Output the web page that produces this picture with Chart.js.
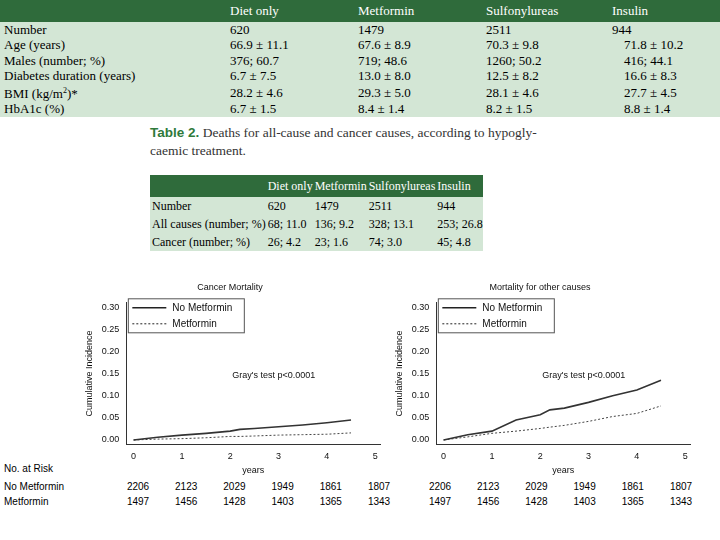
<!DOCTYPE html>
<html><head><meta charset="utf-8">
<script src="https://cdn.jsdelivr.net/npm/chart.js@4"></script>
<style>
body{margin:0;width:720px;height:540px;background:#fff;position:relative;overflow:hidden;font-family:"Liberation Serif",serif;}
.abs{position:absolute;}
table{border-collapse:collapse;white-space:nowrap;}
#t1{left:0;top:0;width:720px;background:#d3e6d5;font-size:13px;}
#t1 th{background:#2f6b3b;color:#fff;font-weight:normal;text-align:left;height:22px;padding:0;}
#t1 td{padding:0;height:15.5px;line-height:14px;}
#t2{left:150px;top:175px;width:266px;background:#d3e6d5;font-size:12px;}
#t2 th{background:#2f6b3b;color:#fff;font-weight:normal;text-align:left;height:22px;padding:0 0 0 2px;}
#t2 td{padding:0 0 0 2px;height:18px;}
.risk{font-family:"Liberation Sans",Arial,sans-serif;font-size:10px;}
</style></head><body>
<table id="t1" class="abs"><tr><th style="width:230px"></th><th style="width:128px">Diet only</th><th style="width:128px">Metformin</th><th style="width:126px">Sulfonylureas</th><th>Insulin</th></tr>
<tr><td style="padding-left:4px">Number</td><td>620</td><td>1479</td><td>2511</td><td>944</td></tr>
<tr><td style="padding-left:4px">Age (years)</td><td>66.9 ± 11.1</td><td>67.6 ± 8.9</td><td>70.3 ± 9.8</td><td style="padding-left:12px">71.8 ± 10.2</td></tr>
<tr><td style="padding-left:4px">Males (number; %)</td><td>376; 60.7</td><td>719; 48.6</td><td>1260; 50.2</td><td style="padding-left:12px">416; 44.1</td></tr>
<tr><td style="padding-left:4px">Diabetes duration (years)</td><td>6.7 ± 7.5</td><td>13.0 ± 8.0</td><td>12.5 ± 8.2</td><td style="padding-left:12px">16.6 ± 8.3</td></tr>
<tr><td style="padding-left:4px">BMI (kg/m<sup style="font-size:8px">2</sup>)*</td><td>28.2 ± 4.6</td><td>29.3 ± 5.0</td><td>28.1 ± 4.6</td><td style="padding-left:12px">27.7 ± 4.5</td></tr>
<tr><td style="padding-left:4px">HbA1c (%)</td><td>6.7 ± 1.5</td><td>8.4 ± 1.4</td><td>8.2 ± 1.5</td><td style="padding-left:12px">8.8 ± 1.4</td></tr>
</table>
<div class="abs" style="left:150px;top:124px;width:400px;font-size:13.5px;line-height:18px;color:#333;white-space:nowrap"><b style="font-family:'Liberation Sans',sans-serif;color:#2f7a3b">Table 2.</b> Deaths for all-cause and cancer causes, according to hypogly-<br>caemic treatment.</div>
<table id="t2" class="abs"><tr><th style="width:118px"></th><th>Diet only</th><th>Metformin</th><th>Sulfonylureas</th><th>Insulin</th></tr>
<tr><td>Number</td><td>620</td><td>1479</td><td>2511</td><td>944</td></tr>
<tr><td>All causes (number; %)</td><td>68; 11.0</td><td>136; 9.2</td><td>328; 13.1</td><td>253; 26.8</td></tr>
<tr><td>Cancer (number; %)</td><td>26; 4.2</td><td>23; 1.6</td><td>74; 3.0</td><td>45; 4.8</td></tr>
</table>
<div class="abs" style="left:80px;top:280px;width:312px;height:196px"><canvas id="c1"></canvas></div>
<div class="abs" style="left:390px;top:280px;width:312px;height:196px"><canvas id="c2"></canvas></div>
<div id="risk"></div>
<script>
const years = [0, 0.5, 1, 1.5, 2, 2.2, 2.5, 3, 3.5, 4, 4.5];
const cancerNoMet = [0, 0.006, 0.011, 0.015, 0.020, 0.024, 0.026, 0.030, 0.034, 0.039, 0.045];
const cancerMet = [0, 0.002, 0.003, 0.005, 0.008, 0.008, 0.009, 0.011, 0.012, 0.013, 0.016];
const otherNoMet = [0, 0.012, 0.020, 0.045, 0.057, 0.068, 0.072, 0.085, 0.100, 0.113, 0.135];
const otherMet = [0, 0.007, 0.015, 0.020, 0.026, 0.029, 0.033, 0.042, 0.053, 0.060, 0.077];
const yTicks = [0, 0.05, 0.10, 0.15, 0.20, 0.25, 0.30];
const riskYears = [0, 1, 2, 3, 4, 5];
const riskNoMet = [2206, 2123, 2029, 1949, 1861, 1807];
const riskMet = [1497, 1456, 1428, 1403, 1365, 1343];

const F = '"Liberation Sans", Arial, sans-serif';
const pts = ys => years.map((x, i) => ({x, y: ys[i]}));

const overlay = {
  id: 'overlay',
  afterDraw(chart) {
    const {ctx, chartArea: a, scales} = chart;
    ctx.save();
    const lx = a.left + 2, ly = a.top - 4;
    ctx.strokeStyle = '#555'; ctx.lineWidth = 1;
    ctx.strokeRect(lx, ly, 116, 34);
    ctx.font = '10px ' + F; ctx.fillStyle = '#111'; ctx.textBaseline = 'middle';
    ctx.lineWidth = 1.5; ctx.strokeStyle = '#222';
    ctx.beginPath(); ctx.moveTo(lx + 4, ly + 9); ctx.lineTo(lx + 38, ly + 9); ctx.stroke();
    ctx.setLineDash([2, 2]); ctx.lineWidth = 1;
    ctx.beginPath(); ctx.moveTo(lx + 4, ly + 25); ctx.lineTo(lx + 38, ly + 25); ctx.stroke();
    ctx.setLineDash([]);
    ctx.fillText('No Metformin', lx + 44, ly + 9);
    ctx.fillText('Metformin', lx + 44, ly + 25);
    ctx.font = '9px ' + F; ctx.textAlign = 'center';
    ctx.fillText("Gray's test p<0.0001", scales.x.getPixelForValue(2.9), scales.y.getPixelForValue(0.145));
    ctx.restore();
  }
};

function makeChart(id, title, noMet, met) {
  new Chart(document.getElementById(id), {
    type: 'scatter',
    data: {datasets: [
      {data: pts(noMet), showLine: true, borderColor: '#333', borderWidth: 1.6, pointRadius: 0},
      {data: pts(met), showLine: true, borderColor: '#444', borderWidth: 1, borderDash: [2, 2], pointRadius: 0}
    ]},
    options: {
      animation: false, responsive: true, maintainAspectRatio: false,
      layout: {padding: {top: 2, right: 12}},
      plugins: {
        legend: {display: false}, tooltip: {enabled: false},
        title: {display: true, text: title, color: '#111', font: {family: F, size: 9, weight: 'normal'}, padding: {top: 0, bottom: 10}}
      },
      scales: {
        x: {type: 'linear', min: -0.15, max: 5.1, afterBuildTicks: s => { s.ticks = riskYears.map(v => ({value: v})); },
          grid: {display: false, drawTicks: true, tickLength: 4, tickColor: '#333'}, border: {color: '#333'},
          ticks: {color: '#111', font: {family: F, size: 9}},
          title: {display: true, text: 'years', color: '#111', font: {family: F, size: 9}, padding: 0}},
        y: {min: -0.01, max: 0.31, afterBuildTicks: s => { s.ticks = yTicks.map(v => ({value: v})); },
          grid: {display: false, drawTicks: true, tickLength: 4, tickColor: '#333'}, border: {color: '#333'},
          ticks: {color: '#111', font: {family: F, size: 9}, callback: v => v.toFixed(2)},
          title: {display: true, text: 'Cumulative Incidence', color: '#111', font: {family: F, size: 9}}}
      }
    },
    plugins: [overlay]
  });
}
makeChart('c1', 'Cancer Mortality', cancerNoMet, cancerMet);
makeChart('c2', 'Mortality for other causes', otherNoMet, otherMet);

const r = document.getElementById('risk');
function label(txt, x, y, align) {
  const d = document.createElement('div');
  d.className = 'abs risk'; d.textContent = txt;
  d.style.top = y + 'px';
  if (align === 'c') { d.style.left = (x - 20) + 'px'; d.style.width = '40px'; d.style.textAlign = 'center'; }
  else d.style.left = x + 'px';
  r.appendChild(d);
}
label('No. at Risk', 4, 463);
label('No Metformin', 4, 481);
label('Metformin', 4, 496);
[[138, 48.2], [440, 48.2]].forEach(([x0, dx]) => {
  riskYears.forEach((y, i) => {
    label(String(riskNoMet[i]), x0 + i * dx, 481, 'c');
    label(String(riskMet[i]), x0 + i * dx, 496, 'c');
  });
});
</script>
</body></html>
